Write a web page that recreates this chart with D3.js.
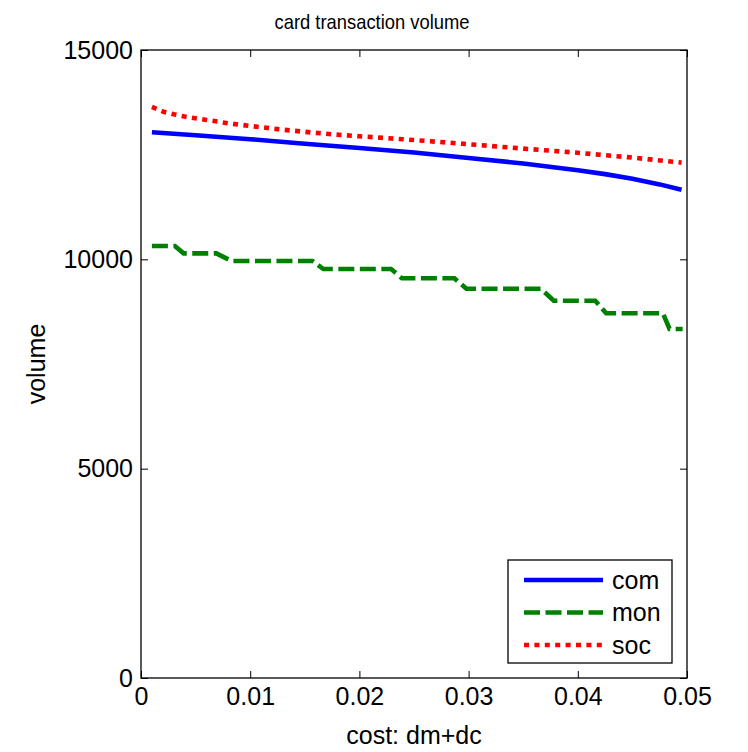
<!DOCTYPE html>
<html>
<head>
<meta charset="utf-8">
<script src="https://cdn.jsdelivr.net/npm/d3@7"></script>
<style>
	body { margin: 0; background: #fff; }
	svg text { font-family: "Liberation Sans", Arial, sans-serif; fill: #000; }
</style>
</head>
<body>
<svg id="chart" width="748" height="752"></svg>
<script>
// values
var xTicks = [0, 0.01, 0.02, 0.03, 0.04, 0.05];
var yTicks = [0, 5000, 10000, 15000];

var comCost   = [0.001, 0.005, 0.010, 0.015, 0.020, 0.025, 0.030, 0.035, 0.040, 0.0425, 0.045, 0.0475, 0.0495];
var comVolume = [13034, 12965, 12870, 12760, 12660, 12550, 12420, 12290, 12130, 12035, 11925, 11790, 11660];

var monCost   = [0.001, 0.0031, 0.0039, 0.0069, 0.0083, 0.0157, 0.0167, 0.0229, 0.0239, 0.0287, 0.0298, 0.0366, 0.0378, 0.0416, 0.0426, 0.0478, 0.0484, 0.0496];
var monVolume = [10318, 10318, 10143, 10143, 9960, 9960, 9769, 9769, 9547, 9547, 9299, 9299, 9012, 9012, 8711, 8711, 8336, 8336];

var socCost   = [0.001, 0.002, 0.003, 0.004, 0.006, 0.008, 0.010, 0.0125, 0.015, 0.0175, 0.020, 0.025, 0.030, 0.035, 0.040, 0.045, 0.0495];
var socVolume = [13640, 13530, 13465, 13410, 13330, 13250, 13185, 13110, 13045, 12985, 12940, 12850, 12750, 12645, 12545, 12430, 12310];

var seriesNames = ["com", "mon", "soc"];

var series = [
	{ name: seriesNames[0], cost: comCost, volume: comVolume, color: "#0000ff", dash: null },
	{ name: seriesNames[1], cost: monCost, volume: monVolume, color: "#008000", dash: "16,5.5" },
	{ name: seriesNames[2], cost: socCost, volume: socVolume, color: "#ff0000", dash: "5,5.4" }
];

var margin = { top: 50, right: 61, bottom: 74, left: 141 },
	width  = 748 - margin.left - margin.right,
	height = 752 - margin.top - margin.bottom;

var svg = d3.select("#chart");
var g = svg.append("g")
	.attr("transform", "translate(" + margin.left + "," + margin.top + ")");

var x = d3.scaleLinear().domain([0, 0.05]).range([0, width]);
var y = d3.scaleLinear().domain([0, 15000]).range([height, 0]);

// axes, ticks pointing inward like matlab
var fmt = function(d){ return String(d); };

g.append("g")
	.attr("transform", "translate(0," + height + ")")
	.call(d3.axisBottom(x).tickValues(xTicks).tickFormat(fmt).tickSize(-7).tickPadding(9));
g.append("g")
	.call(d3.axisTop(x).tickValues(xTicks).tickFormat("").tickSize(-7));
g.append("g")
	.call(d3.axisLeft(y).tickValues(yTicks).tickFormat(fmt).tickSize(-7).tickPadding(8));
g.append("g")
	.attr("transform", "translate(" + width + ",0)")
	.call(d3.axisRight(y).tickValues(yTicks).tickFormat("").tickSize(-7));

g.selectAll(".domain").remove();
g.selectAll(".tick line").attr("stroke", "#000").attr("stroke-width", 1);
g.selectAll(".tick text").style("font-size", "25px").attr("fill", "#000");

g.append("rect")
	.attr("width", width).attr("height", height)
	.attr("fill", "none").attr("stroke", "#000").attr("stroke-width", 1.3);

// lines
var line = d3.line()
	.x(function(d){ return x(d[0]); })
	.y(function(d){ return y(d[1]); });

g.selectAll(".series")
	.data(series).enter().append("path")
	.attr("class", "series")
	.attr("d", function(s){
		return line(s.cost.map(function(c, i){ return [c, s.volume[i]]; }));
	})
	.attr("fill", "none")
	.attr("stroke", function(s){ return s.color; })
	.attr("stroke-width", 4.6)
	.attr("stroke-dasharray", function(s){ return s.dash; });

// legend
var legend = g.append("g").attr("transform", "translate(" + (508 - margin.left) + "," + (560 - margin.top) + ")");
legend.append("rect")
	.attr("width", 164).attr("height", 103)
	.attr("fill", "#fff").attr("stroke", "#000").attr("stroke-width", 1.3);

var items = legend.selectAll(".item")
	.data(series).enter().append("g")
	.attr("transform", function(d, i){ return "translate(0," + (20 + i * 32.5) + ")"; });
items.append("line")
	.attr("x1", 16).attr("x2", 95)
	.attr("stroke", function(d){ return d.color; })
	.attr("stroke-width", 4.6)
	.attr("stroke-dasharray", function(d){ return d.dash; });
items.append("text")
	.attr("x", 104).attr("dy", "0.35em")
	.style("font-size", "25px")
	.text(function(d){ return d.name; });

// titles
svg.append("text")
	.attr("x", 372).attr("y", 29)
	.attr("text-anchor", "middle").style("font-size", "21px")
	.attr("textLength", 195).attr("lengthAdjust", "spacingAndGlyphs")
	.text("card transaction volume");
svg.append("text")
	.attr("x", margin.left + width / 2).attr("y", 744)
	.attr("text-anchor", "middle").style("font-size", "25px")
	.text("cost: dm+dc");
svg.append("text")
	.attr("transform", "translate(45," + (margin.top + height / 2) + ") rotate(-90)")
	.attr("text-anchor", "middle").style("font-size", "25px")
	.text("volume");
</script>
</body>
</html>
